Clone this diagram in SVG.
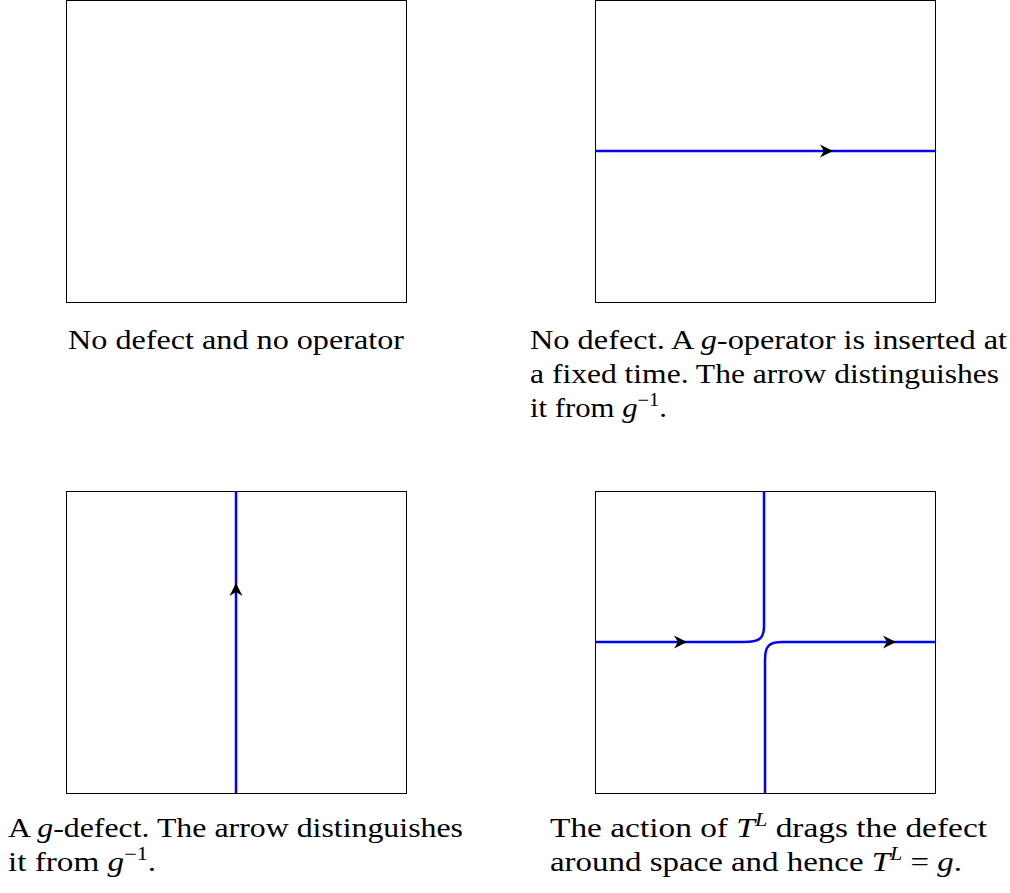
<svg xmlns="http://www.w3.org/2000/svg" width="1010" height="893" viewBox="0 0 1010 893">
<style>
.frame{fill:none;stroke:#000;stroke-width:1}
.wire{fill:none;stroke:#0000ff;stroke-width:2.5}
.head{fill:#000;stroke:none}
</style>
<rect width="1010" height="893" fill="#fff"/>
<g id="panel1">
<rect class="frame" x="66.5" y="0.5" width="340" height="302"/>
<text x="68" y="349" font-family="Liberation Serif" font-size="27" textLength="336" lengthAdjust="spacingAndGlyphs">No defect and no operator</text>
</g>
<g id="panel2">
<rect class="frame" x="595.5" y="0.5" width="340" height="302"/>
<text x="530" y="349" font-family="Liberation Serif" font-size="27" textLength="477" lengthAdjust="spacingAndGlyphs">No defect. A <tspan font-style="italic">g</tspan>-operator is inserted at</text>
<text x="530" y="383" font-family="Liberation Serif" font-size="27" textLength="469" lengthAdjust="spacingAndGlyphs">a fixed time. The arrow distinguishes</text>
<text x="530" y="417" font-family="Liberation Serif" font-size="27" textLength="137" lengthAdjust="spacingAndGlyphs">it from <tspan font-style="italic">g</tspan><tspan font-size="18" dy="-11">−1</tspan><tspan dy="11">.</tspan></text>
</g>
<g id="panel3">
<rect class="frame" x="66.5" y="491.5" width="340" height="302"/>
<text x="8" y="837" font-family="Liberation Serif" font-size="27" textLength="455" lengthAdjust="spacingAndGlyphs">A <tspan font-style="italic">g</tspan>-defect. The arrow distinguishes</text>
<text x="8" y="871" font-family="Liberation Serif" font-size="27" textLength="148" lengthAdjust="spacingAndGlyphs">it from <tspan font-style="italic">g</tspan><tspan font-size="18" dy="-11">−1</tspan><tspan dy="11">.</tspan></text>
</g>
<g id="panel4">
<rect class="frame" x="595.5" y="491.5" width="340" height="302"/>
<text x="550" y="837" font-family="Liberation Serif" font-size="27" textLength="437" lengthAdjust="spacingAndGlyphs">The action of <tspan font-style="italic">T</tspan><tspan font-size="18" font-style="italic" dy="-11">L</tspan><tspan dy="11"> drags the defect</tspan></text>
<text x="550" y="871" font-family="Liberation Serif" font-size="27" textLength="412" lengthAdjust="spacingAndGlyphs">around space and hence <tspan font-style="italic">T</tspan><tspan font-size="18" font-style="italic" dy="-11">L</tspan><tspan dy="11"> = </tspan><tspan font-style="italic">g</tspan>.</text>
</g>
<g id="connectors">
<path class="wire" d="M595,151 H935"/>
<path class="head" d="M833,151 L820,144.5 L824,151 L820,157.5 Z"/>
<path class="wire" d="M236,793 V491"/>
<path class="head" d="M236,583 L229.5,596 L236,592 L242.5,596 Z"/>
<path class="wire" d="M595,642 H744 C760,642 764,638 764,626 V491"/>
<path class="wire" d="M765,793 V660 C765,646 769,642 782,642 H935"/>
<path class="head" d="M687,642 L674,635.5 L678,642 L674,648.5 Z"/>
<path class="head" d="M896,642 L883,635.5 L887,642 L883,648.5 Z"/>
</g>
</svg>
